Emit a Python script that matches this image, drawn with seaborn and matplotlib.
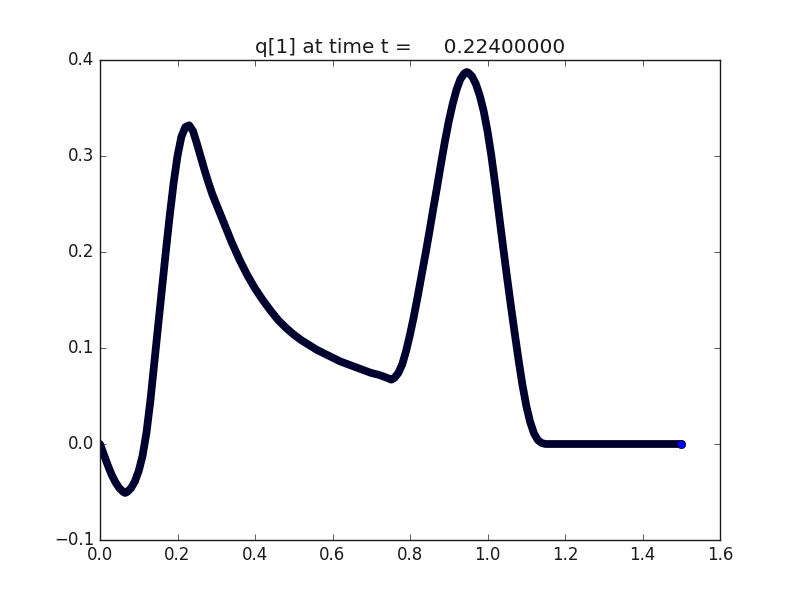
import numpy as np
import matplotlib
matplotlib.use("Agg")
import matplotlib.pyplot as plt
import seaborn as sns

# values
x_vals = [0.000, 0.010, 0.020, 0.030, 0.040, 0.050, 0.060, 0.065, 0.070, 0.080,
          0.090, 0.100, 0.110, 0.120, 0.130, 0.140, 0.150, 0.160, 0.170, 0.180,
          0.190, 0.200, 0.210, 0.220, 0.230, 0.240, 0.250, 0.260, 0.270, 0.280,
          0.290, 0.300, 0.320, 0.340, 0.360, 0.380, 0.400, 0.420, 0.440, 0.460,
          0.480, 0.500, 0.520, 0.540, 0.560, 0.580, 0.600, 0.620, 0.640, 0.660,
          0.680, 0.700, 0.720, 0.740, 0.752, 0.760, 0.770, 0.780, 0.790, 0.800,
          0.810, 0.820, 0.830, 0.840, 0.850, 0.860, 0.870, 0.880, 0.890, 0.900,
          0.910, 0.920, 0.930, 0.940, 0.946, 0.950, 0.960, 0.970, 0.980, 0.990,
          1.000, 1.010, 1.020, 1.030, 1.040, 1.050, 1.060, 1.070, 1.080, 1.090,
          1.100, 1.110, 1.120, 1.130, 1.140, 1.150, 1.200, 1.250, 1.300, 1.350,
          1.400, 1.450, 1.500]
q_vals = [0.000, -0.011, -0.022, -0.032, -0.040, -0.046, -0.050, -0.051, -0.050, -0.046,
          -0.039, -0.028, -0.012, 0.012, 0.045, 0.084, 0.123, 0.162, 0.201, 0.238,
          0.272, 0.300, 0.320, 0.330, 0.332, 0.326, 0.313, 0.299, 0.285, 0.272,
          0.260, 0.250, 0.230, 0.210, 0.192, 0.176, 0.162, 0.150, 0.139, 0.129,
          0.121, 0.114, 0.108, 0.103, 0.098, 0.094, 0.090, 0.086, 0.083, 0.080,
          0.077, 0.074, 0.072, 0.069, 0.067, 0.069, 0.074, 0.083, 0.097, 0.114,
          0.133, 0.154, 0.176, 0.198, 0.221, 0.245, 0.268, 0.292, 0.315, 0.336,
          0.354, 0.369, 0.380, 0.386, 0.3875, 0.387, 0.383, 0.375, 0.363, 0.347,
          0.326, 0.300, 0.270, 0.238, 0.206, 0.175, 0.145, 0.116, 0.088, 0.062,
          0.040, 0.023, 0.011, 0.004, 0.001, 0.000, 0.000, 0.000, 0.000, 0.000,
          0.000, 0.000, 0.000]
t_now = 0.224
x_ticks = [0.0, 0.2, 0.4, 0.6, 0.8, 1.0, 1.2, 1.4, 1.6]
y_ticks = [-0.1, 0.0, 0.1, 0.2, 0.3, 0.4]

sns.set_theme()
plt.style.use("classic")
plt.rcParams["font.family"] = ["DejaVu Sans"]

fig, ax = plt.subplots(figsize=(8, 6), dpi=100)
fig.patch.set_facecolor("white")

# dense markers in the original blend into a dark trail; last marker shows blue
sns.lineplot(x=x_vals, y=q_vals, ax=ax, color="#00002e", linewidth=5.6,
             marker="o", markersize=6, markerfacecolor="blue",
             markeredgecolor="black", markeredgewidth=0.5,
             markevery=[len(x_vals) - 1],
             solid_capstyle="round", solid_joinstyle="round")

ax.set_xlim(0, 1.6)
ax.set_ylim(-0.1, 0.4)
ax.set_xticks(x_ticks)
ax.set_yticks(y_ticks)
ax.set_xlabel("")
ax.set_ylabel("")
ax.set_title("q[1] at time t = %14.8f" % t_now)

fig.savefig("out.png", dpi=100, facecolor="white")
